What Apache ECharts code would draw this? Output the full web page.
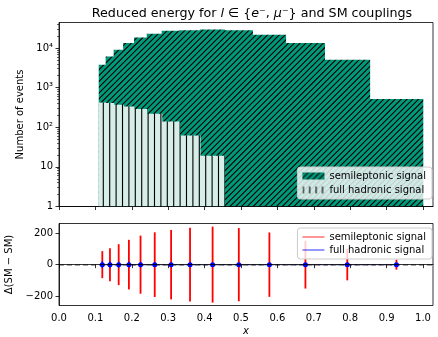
<!DOCTYPE html>
<html><head><meta charset="utf-8">
<script src="https://cdn.jsdelivr.net/npm/echarts@6.0.0/dist/echarts.min.js"></script>
<style>html,body{margin:0;padding:0;background:#fff}#c{width:438px;height:337px}</style>
</head><body><div id="c"></div>
<script>
// ---------- data ----------
const binEdges = [0.110,0.129,0.151,0.177,0.207,0.242,0.283,0.332,0.388,0.455,0.532,0.623,0.730,0.854,1.000];
const semileptonicCounts = [3800,6100,9000,13300,18500,22900,27300,28000,29500,28000,21700,13400,5070,515];
const fullHadronicCounts = [423,408,370,335,288,219,140,62,19,null,null,null,null,null];
const binCenters = [0.119,0.140,0.164,0.192,0.224,0.263,0.308,0.360,0.422,0.494,0.578,0.677,0.792,0.927];
const semileptonicDiff = [0,0,0,0,0,0,0,0,0,0,0,0,0,0];
const semileptonicErr = [86,105,130,158,185,206,221,235,242,233,205,152,100,32];
const fullHadronicDiff = [0,0,0,0,0,0,0,0,0,0,0,0,0,0];
const fullHadronicErr = [21,20,19,18,17,15,12,8,4,0,0,0,0,0];
const xTicks = [0.0,0.1,0.2,0.3,0.4,0.5,0.6,0.7,0.8,0.9,1.0];
const logMajorTicks = [1,10,100,1000,10000];
const logMajorLabels = ['1','10','10²','10³','10⁴'];
const logMinorTicks = [2,3,4,5,6,7,8,9,20,30,40,50,60,70,80,90,200,300,400,500,600,700,800,900,
  2000,3000,4000,5000,6000,7000,8000,9000,20000,30000,40000];
const deltaTicks = [-200,0,200];

// ---------- styles ----------
const FONT = 'DejaVu Sans';
const TEAL = '#009a7b';
const LIGHT = '#d6ede8';
function makePattern(bg, kind) {
  const S = 64;
  const c = document.createElement('canvas'); c.width = S; c.height = S;
  const g = c.getContext('2d');
  if (bg) { g.fillStyle = bg; g.fillRect(0, 0, S, S); }
  g.strokeStyle = '#000'; g.lineWidth = 1.1;
  g.beginPath();
  if (kind === 'diag') {
    const n = 11, sp = S / n;
    for (let k = -1; k <= 2 * n + 1; k++) { const cc = k * sp; g.moveTo(cc + 1, -1); g.lineTo(cc - S - 1, S + 1); }
  } else {
    const n = 10, sp = S / n;
    for (let k = 0; k < n; k++) { const x = 0.9 + k * sp; g.moveTo(x, 0); g.lineTo(x, S); }
  }
  g.stroke();
  return { image: c, repeat: 'repeat' };
}
const patDiag = makePattern(TEAL, 'diag');
const patVert = makePattern(LIGHT, 'vert');
const patVertLegend = makePattern(null, 'vert');

function histData(counts) {
  return counts.map((v, i) => [binEdges[i], binEdges[i + 1], v == null ? NaN : v]);
}
function histRender(fill) {
  return function (params, api) {
    const v = api.value(2);
    if (isNaN(v)) return null;
    const p0 = api.coord([api.value(0), v]);
    const p1 = api.coord([api.value(1), 1]);
    return { type: 'rect', shape: { x: p0[0] - 0.3, y: p0[1], width: p1[0] - p0[0] + 0.6, height: p1[1] - p0[1] },
      style: { fill: fill } };
  };
}
function errData(xs, ys, es) { return xs.map((x, i) => [x, ys[i], es[i]]); }
function errRender(color, w) {
  return function (params, api) {
    const x = api.value(0), y = api.value(1), e = api.value(2);
    const a = api.coord([x, y - e]), b = api.coord([x, y + e]);
    return { type: 'line', shape: { x1: a[0], y1: a[1], x2: b[0], y2: b[1] }, style: { stroke: color, lineWidth: w } };
  };
}

const tickLine = { color: '#000', width: 0.8 };
const labelStyle = { color: '#000', fontFamily: FONT, fontSize: 10 };

const option = {
  animation: false,
  backgroundColor: '#fff',
  title: {
    text: 'Reduced energy for {i|l} ∈ {{i|e}⁻, {i|μ}⁻} and SM couplings',
    left: 247, top: 2, textAlign: 'center',
    textStyle: { fontFamily: FONT, fontSize: 12.7, fontWeight: 'normal', color: '#000',
      rich: { i: { fontFamily: FONT, fontSize: 12.7, fontStyle: 'italic', color: '#000' } } }
  },
  grid: [
    { left: 59, right: 5, top: 22.5, height: 184, show: true, borderColor: '#000', borderWidth: 0.8, backgroundColor: '#fff', outerBoundsMode: 'none' },
    { left: 59, right: 5, top: 223.5, height: 82, show: true, borderColor: '#000', borderWidth: 0.8, backgroundColor: '#fff', outerBoundsMode: 'none' }
  ],
  xAxis: [
    { gridIndex: 0, type: 'value', min: 0, max: 1.0275, z: 10,
      axisLine: { show: true, lineStyle: tickLine }, splitLine: { show: false },
      axisTick: { customValues: xTicks, length: 3.5, lineStyle: tickLine },
      axisLabel: { show: false } },
    { gridIndex: 1, type: 'value', min: 0, max: 1.0275, z: 10,
      axisLine: { show: true, lineStyle: tickLine }, splitLine: { show: false },
      axisTick: { customValues: xTicks, length: 3.5, lineStyle: tickLine },
      axisLabel: Object.assign({ customValues: xTicks, margin: 8, formatter: v => v.toFixed(1) }, labelStyle),
      name: 'x', nameLocation: 'middle', nameGap: 21,
      nameTextStyle: { fontFamily: FONT, fontSize: 10, fontStyle: 'italic', color: '#000' } }
  ],
  yAxis: [
    { gridIndex: 0, type: 'log', logBase: 10, min: 1, max: 44000, z: 10,
      axisLine: { show: true, lineStyle: tickLine }, splitLine: { show: false },
      axisTick: { customValues: logMajorTicks, length: 3.5, lineStyle: tickLine },
      axisLabel: Object.assign({ customValues: logMajorTicks, margin: 6,
        formatter: v => logMajorLabels[Math.round(Math.log10(v))] }, labelStyle),
      name: 'Number of events', nameLocation: 'middle', nameGap: 29,
      nameTextStyle: { fontFamily: FONT, fontSize: 10, color: '#000' } },
    { gridIndex: 0, type: 'log', logBase: 10, min: 1, max: 44000, position: 'left', z: 10,
      axisLine: { show: false }, splitLine: { show: false },
      axisTick: { customValues: logMinorTicks, length: 2, lineStyle: { color: '#000', width: 0.6 } },
      axisLabel: { show: false } },
    { gridIndex: 1, type: 'value', min: -260, max: 262, z: 10,
      axisLine: { show: true, lineStyle: tickLine }, splitLine: { show: false },
      axisTick: { customValues: deltaTicks, length: 3.5, lineStyle: tickLine },
      axisLabel: Object.assign({ customValues: deltaTicks, margin: 6,
        formatter: v => (v < 0 ? '\u2212' + Math.abs(v) : String(v)) }, labelStyle),
      name: 'Δ(SM \u2212 SM)', nameLocation: 'middle', nameGap: 40,
      nameTextStyle: { fontFamily: FONT, fontSize: 10, color: '#000' } }
  ],
  legend: [
    { orient: 'vertical', right: 6, top: 167, itemWidth: 22, itemHeight: 7, itemGap: 4,
      padding: [4, 6, 4, 5], backgroundColor: 'rgba(255,255,255,0.8)', borderColor: '#ccc', borderWidth: 1, borderRadius: 3,
      selectedMode: false, textStyle: labelStyle,
      data: [
        { name: 'semileptonic signal', icon: 'rect', itemStyle: { color: patDiag } },
        { name: 'full hadronic signal', icon: 'rect', itemStyle: { color: patVertLegend } }
      ] },
    { orient: 'vertical', right: 6, top: 228, itemWidth: 22, itemHeight: 1.5, itemGap: 3,
      padding: [4, 6, 4, 5], backgroundColor: 'rgba(255,255,255,0.8)', borderColor: '#ccc', borderWidth: 1, borderRadius: 3,
      selectedMode: false, textStyle: labelStyle,
      data: [
        { name: 'semileptonic signal', icon: 'rect', itemStyle: { color: 'rgba(255,0,0,0.55)' } },
        { name: 'full hadronic signal', icon: 'rect', itemStyle: { color: 'rgba(0,0,255,0.55)' } }
      ] }
  ],
  series: [
    { type: 'custom', name: 'semileptonic signal', xAxisIndex: 0, yAxisIndex: 0, z: 2,
      encode: { x: [0, 1], y: 2 }, data: histData(semileptonicCounts), renderItem: histRender(patDiag) },
    { type: 'custom', name: 'full hadronic signal', xAxisIndex: 0, yAxisIndex: 0, z: 3,
      encode: { x: [0, 1], y: 2 }, data: histData(fullHadronicCounts), renderItem: histRender(patVert) },
    { type: 'line', name: '_zero', xAxisIndex: 1, yAxisIndex: 2, z: 2, showSymbol: false, symbol: 'none',
      data: binCenters.map((x, i) => [x, semileptonicDiff[i]]),
      lineStyle: { color: 'rgba(128,128,128,0.55)', width: 1.5 },
      markLine: { silent: true, symbol: 'none', label: { show: false },
        lineStyle: { color: 'rgba(128,128,128,0.9)', type: [5, 3], width: 1.5 }, data: [{ yAxis: 0 }] } },
    { type: 'custom', name: 'semileptonic signal', xAxisIndex: 1, yAxisIndex: 2, z: 3,
      encode: { x: 0, y: 1 }, data: errData(binCenters, semileptonicDiff, semileptonicErr), renderItem: errRender('#ff0000', 1.8) },
    { type: 'custom', name: 'full hadronic signal', xAxisIndex: 1, yAxisIndex: 2, z: 4,
      encode: { x: 0, y: 1 }, data: errData(binCenters, fullHadronicDiff, fullHadronicErr), renderItem: errRender('#0000ff', 1.2) },
    { type: 'line', name: 'full hadronic signal', xAxisIndex: 1, yAxisIndex: 2, z: 5,
      data: binCenters.map((x, i) => [x, fullHadronicDiff[i]]),
      symbol: 'circle', symbolSize: 5, itemStyle: { color: '#0000ff' },
      lineStyle: { color: 'rgba(0,0,255,0.45)', type: [3, 3], width: 1.2 } }
  ]
};
echarts.init(document.getElementById('c'), null, { renderer: 'canvas' }).setOption(option);
</script>
</body></html>
